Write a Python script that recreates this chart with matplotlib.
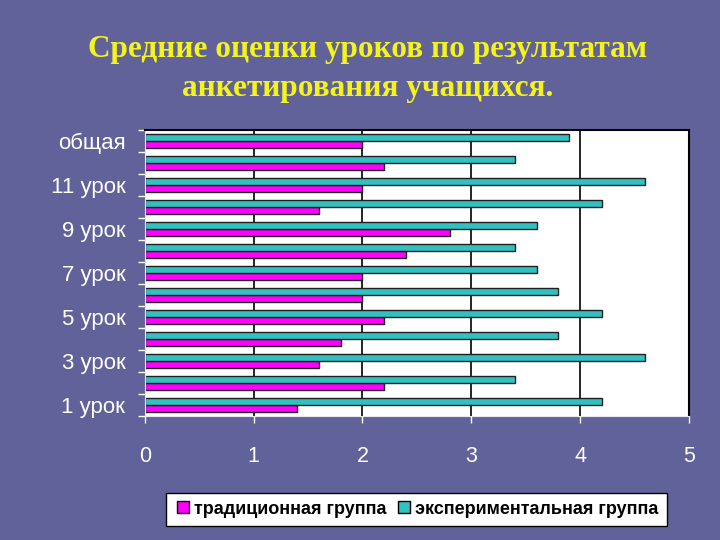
import matplotlib

matplotlib.use("Agg")
import matplotlib.pyplot as plt
from matplotlib.lines import Line2D
import numpy as np

# Lessons from bottom to top, as in the chart.
lessons = ["1 урок", "2 урок", "3 урок", "4 урок", "5 урок", "6 урок",
           "7 урок", "8 урок", "9 урок", "10 урок", "11 урок", "12 урок",
           "общая"]
traditional = [1.4, 2.2, 1.6, 1.8, 2.2, 2.0, 2.0, 2.4, 2.8, 1.6, 2.0, 2.2, 2.0]
experimental = [4.2, 3.4, 4.6, 3.8, 4.2, 3.8, 3.6, 3.4, 3.6, 4.2, 4.6, 3.4, 3.9]
x_ticks = [0, 1, 2, 3, 4, 5]

BG = "#62629a"
MAGENTA = "#ff00ff"
TEAL = "#33c0c0"

plt.rcParams["font.family"] = ["Liberation Sans", "DejaVu Sans"]

fig = plt.figure(figsize=(7.2, 5.4), dpi=100, facecolor=BG)
ax = fig.add_axes([0.201, 0.230, 0.756, 0.529])
ax.set_facecolor("white")

y = np.arange(len(lessons))
h = 0.33
ax.barh(y - h / 2, traditional, height=h, color=MAGENTA,
        edgecolor="#202020", linewidth=1.0, label="традиционная группа")
ax.barh(y + h / 2, experimental, height=h, color=TEAL,
        edgecolor="#202020", linewidth=1.0, label="экспериментальная группа")

ax.set_xlim(0, 5)
ax.set_ylim(-0.5, len(lessons) - 0.5)
ax.set_xticks(x_ticks, [str(v) for v in x_ticks])
for v in x_ticks[1:-1]:
    ax.axvline(v, color="black", linewidth=1.2, zorder=0)

# labels on every other lesson, tick marks between categories
ax.set_yticks(y, [name if i % 2 == 0 else "" for i, name in enumerate(lessons)])
ax.set_yticks(np.arange(len(lessons) + 1) - 0.5, minor=True)
ax.tick_params(axis="y", which="major", length=0, pad=14,
               labelsize=16, labelcolor="white")
ax.tick_params(axis="y", which="minor", length=5, color="white", width=1)
ax.tick_params(axis="x", length=5, color="white", width=1, pad=17,
               labelsize=15.5, labelcolor="white")

ax.spines["top"].set_color("black")
ax.spines["right"].set_color("black")
ax.spines["top"].set_linewidth(1.5)
ax.spines["right"].set_linewidth(1.5)
ax.spines["bottom"].set_color("#e8e8f0")
ax.spines["left"].set_color("#e8e8f0")

handles = [
    Line2D([], [], marker="s", linestyle="none", markersize=8,
           markerfacecolor=MAGENTA, markeredgecolor="black",
           label="традиционная группа"),
    Line2D([], [], marker="s", linestyle="none", markersize=8,
           markerfacecolor=TEAL, markeredgecolor="black",
           label="экспериментальная группа"),
]
leg = fig.legend(handles=handles, loc="center", bbox_to_anchor=(0.578, 0.057),
                 ncol=2, frameon=True, fancybox=False,
                 prop={"size": 13, "weight": "bold"},
                 handletextpad=0.1, columnspacing=0.5, borderpad=0.45,
                 handlelength=1.0, framealpha=1, facecolor="white")
leg.get_frame().set_edgecolor("black")
leg.get_frame().set_linewidth(1.0)

fig.text(0.51, 0.908, "Средние оценки уроков по результатам",
         ha="center", va="center", color="#f4f41c", fontsize=22.5,
         weight="bold", family=["Liberation Serif", "DejaVu Serif"])
fig.text(0.51, 0.837, "анкетирования учащихся.",
         ha="center", va="center", color="#f4f41c", fontsize=22.5,
         weight="bold", family=["Liberation Serif", "DejaVu Serif"])

fig.savefig("out.png", dpi=100, facecolor=BG)
